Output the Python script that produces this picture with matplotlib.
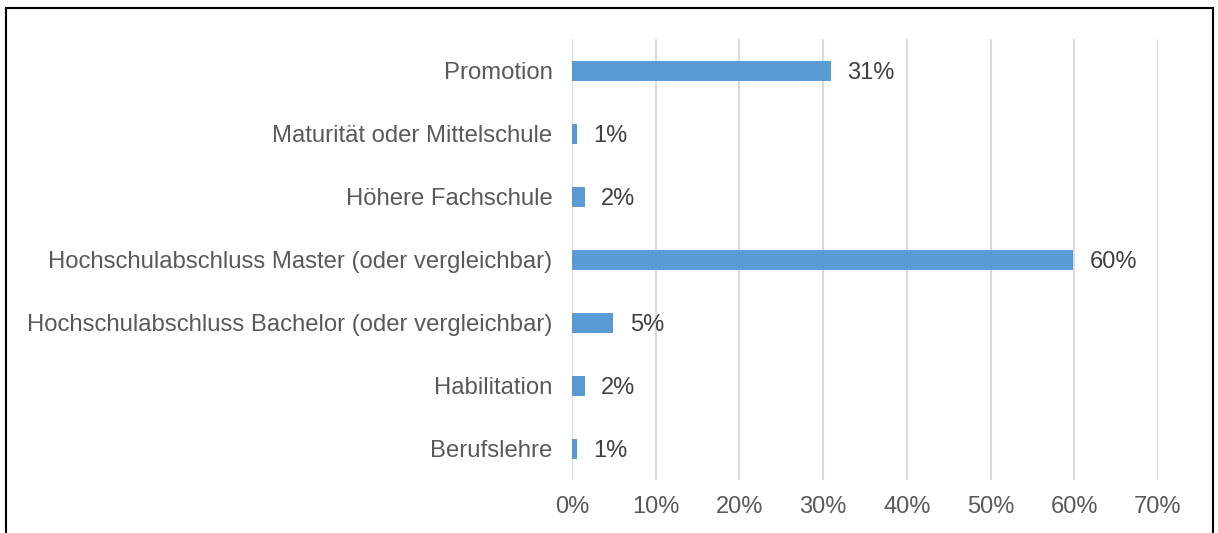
import matplotlib.pyplot as plt
from matplotlib.patches import Rectangle
from matplotlib.ticker import FuncFormatter

# categories listed bottom to top, as Excel draws them
categories = [
    "Berufslehre",
    "Habilitation",
    "Hochschulabschluss Bachelor (oder vergleichbar)",
    "Hochschulabschluss Master (oder vergleichbar)",
    "Höhere Fachschule",
    "Maturität oder Mittelschule",
    "Promotion",
]
shares = [0.6, 1.5, 4.9, 59.9, 1.5, 0.6, 30.9]
x_ticks = [0, 10, 20, 30, 40, 50, 60, 70]

plt.rcParams['font.family'] = ['Liberation Sans', 'DejaVu Sans']

fig = plt.figure(figsize=(12.18, 5.33), dpi=100)
ax = fig.add_axes([0.4696, 0.0985, 0.4811, 0.8274])

ypos = range(len(categories))
ax.barh(ypos, shares, height=0.33, color="#5B9BD5", zorder=3)
for y, v in zip(ypos, shares):
    ax.text(v + 2.0, y, f"{v:.0f}%", va="center_baseline", ha="left",
            fontsize=17, color="#404040")

ax.set_yticks(list(ypos))
ax.set_yticklabels(categories)
ax.set_ylim(-0.5, len(categories) - 0.5)
ax.set_xlim(0, 70)
ax.set_xticks(x_ticks)
ax.xaxis.set_major_formatter(FuncFormatter(lambda v, p: f"{v:.0f}%"))
ax.tick_params(axis="y", length=0, pad=14, labelsize=17.2, labelcolor="#595959")
ax.tick_params(axis="x", length=0, pad=11, labelsize=17, labelcolor="#595959")
ax.grid(axis="x", color="#D9D9D9", linewidth=1.5, zorder=0)
for s in ax.spines.values():
    s.set_visible(False)

# chart border
fig.patches.append(Rectangle((6 / 1218, -0.05), 1207 / 1218, 1.05 - 8 / 533,
                             transform=fig.transFigure, fill=False,
                             edgecolor="black", linewidth=1.5))

fig.savefig("out.png", dpi=100)
